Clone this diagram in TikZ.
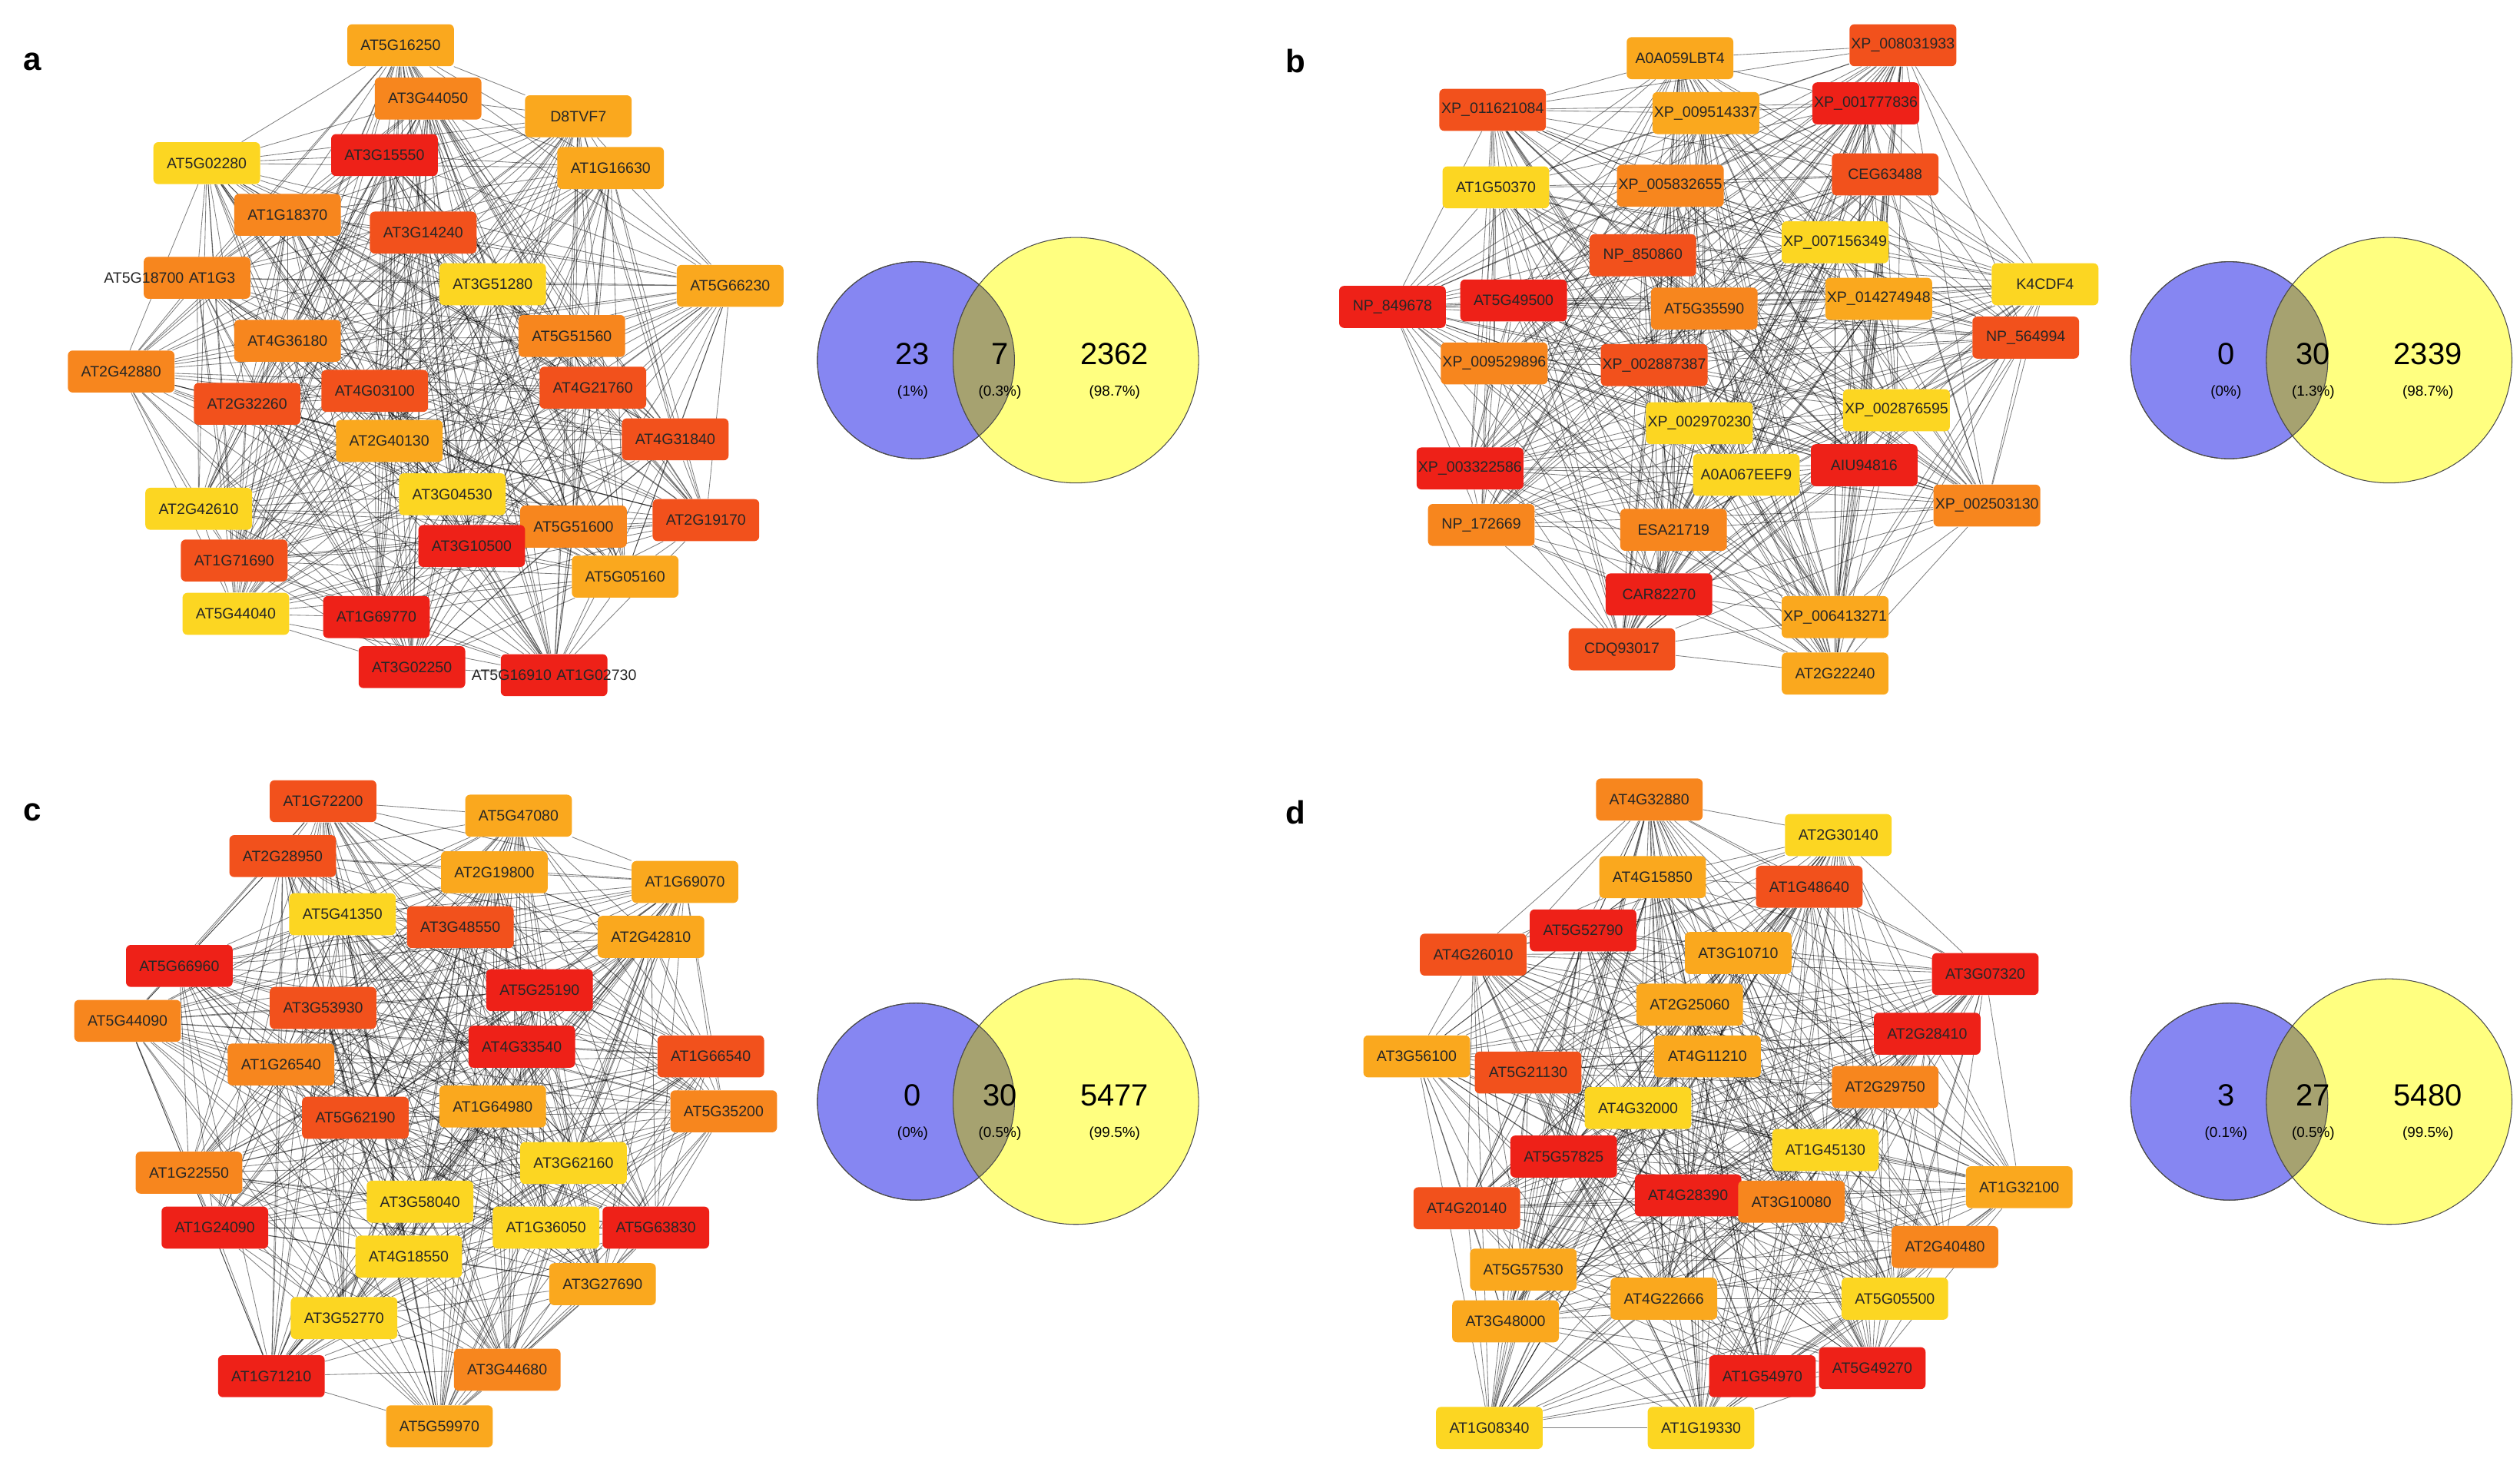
\documentclass[tikz,border=0pt]{standalone}
\usepackage{fontspec}
\setmainfont{Liberation Sans}
\pgfdeclarelayer{bg}
\pgfsetlayers{bg,main}
\definecolor{cR}{HTML}{EE2118}
\definecolor{cRO}{HTML}{F2511C}
\definecolor{cO}{HTML}{F7861E}
\definecolor{cOY}{HTML}{FAA81E}
\definecolor{cY}{HTML}{FCD622}
\definecolor{vblue}{HTML}{8686F2}
\definecolor{vyel}{HTML}{FFFF80}
\definecolor{volive}{HTML}{A6A270}
\tikzset{
 box/.style={rounded corners=3pt,minimum width=66pt,minimum height=26pt,inner sep=1pt,font=\fontsize{9.3}{10}\selectfont,text=black!85},
 edge/.style={draw=black,line width=0.4pt,opacity=0.5},
 lett/.style={font=\fontsize{20}{22}\selectfont\bfseries},
 num/.style={font=\fontsize{19}{20}\selectfont},
 pct/.style={font=\fontsize{9}{10}\selectfont},
 cb/.style={fill=vblue,draw=black!70,line width=0.5pt},
 cy/.style={fill=vyel,draw=black!70,line width=0.5pt},
}
\newcommand\netpanel[2]{%
 \foreach \x/\y/\c/\t [count=\k] in {#2}{\node[box,fill=c\c] (#1\k) at (\x,\y) {\t};}
 \begin{pgfonlayer}{bg}
 \foreach \i in {1,...,29}{\pgfmathtruncatemacro\s{\i+1}
  \foreach \j in {\s,...,30}{\draw[edge] (#1\i) -- (#1\j);}}
 \end{pgfonlayer}}
\newcommand\venn[8]{%
 \begin{scope}[shift={(0,#1)}]
 \path[cb] (#2,0) coordinate (#8c) circle (61);
 \path[cy] (#2+99,0) circle (76);
 \begin{scope}\clip (#2,0) circle (61);
 \path[fill=volive,draw=black!70,line width=0.5pt] (#2+99,0) circle (76);\end{scope}
 \draw[black!70,line width=0.5pt] (#2,0) circle (61);
 \node[num] (#8n1) at (#2-2,-4) {#3};
 \node[num] (#8n2) at (#2+52,-4) {#4};
 \node[num] (#8n3) at (#2+123,-4) {#5};
 \node[pct] (#8p1) at (#2-2,20) {#6};
 \end{scope}}
\begin{document}
\begin{tikzpicture}[x=1pt,y=-1pt]
\useasboundingbox (0,0) rectangle (1560,913);
\node[lett] (la) at (20,38) {a};
\node[lett] (lb) at (802,38) {b};
\node[lett] (lc) at (20,503) {c};
\node[lett] (ld) at (802,503) {d};
% panel a
\netpanel{a}{248/28/OY/AT5G16250,265/61/O/AT3G44050,358/72/OY/D8TVF7,128/101/Y/AT5G02280,238/96/R/AT3G15550,378/104/OY/AT1G16630,178/133/O/AT1G18370,262/144/RO/AT3G14240,122/172/O/{},305/176/Y/AT3G51280,452/177/OY/AT5G66230,178/211/O/AT4G36180,354/208/O/AT5G51560,75/230/O/AT2G42880,232/242/RO/AT4G03100,367/240/RO/AT4G21760,153/250/RO/AT2G32260,241/273/OY/AT2G40130,418/272/RO/AT4G31840,123/315/Y/AT2G42610,280/306/Y/AT3G04530,355/326/O/AT5G51600,437/322/RO/AT2G19170,145/347/RO/AT1G71690,292/338/R/AT3G10500,387/357/OY/AT5G05160,146/380/Y/AT5G44040,233/382/R/AT1G69770,255/413/R/AT3G02250,343/418/R/{}}
\node[box,fill=none,text width=120pt,align=center] (ta9) at (105,172) {AT5G18700 AT1G3};
\node[box,fill=none,text width=130pt,align=center] (ta30) at (343,418) {AT5G16910 AT1G02730};
% panel b
\netpanel{b}{1040/36/OY/A0A059LBT4,1178/28/RO/XP\_008031933,924/68/RO/XP\_011621084,1056/70/OY/XP\_009514337,1155/64/R/XP\_001777836,1167/108/RO/CEG63488,926/116/Y/AT1G50370,1034/115/O/XP\_005832655,1017/158/RO/NP\_850860,1136/150/Y/XP\_007156349,1266/176/Y/K4CDF4,862/190/R/NP\_849678,937/186/R/AT5G49500,1055/191/O/AT5G35590,1163/185/OY/XP\_014274948,1254/209/RO/NP\_564994,925/225/O/XP\_009529896,1024/226/RO/XP\_002887387,1052/262/Y/XP\_002970230,1174/254/Y/XP\_002876595,910/290/R/XP\_003322586,1081/294/Y/A0A067EEF9,1154/288/R/AIU94816,1230/313/O/XP\_002503130,917/325/O/NP\_172669,1036/328/O/ESA21719,1027/368/R/CAR82270,1136/382/OY/XP\_006413271,1004/402/RO/CDQ93017,1136/417/OY/AT2G22240}
% panel c
\netpanel{c}{200/496/RO/AT1G72200,321/505/OY/AT5G47080,175/530/RO/AT2G28950,306/540/OY/AT2G19800,424/546/OY/AT1G69070,212/566/Y/AT5G41350,285/574/RO/AT3G48550,403/580/OY/AT2G42810,111/598/R/AT5G66960,334/613/R/AT5G25190,200/624/RO/AT3G53930,79/632/O/AT5G44090,323/648/R/AT4G33540,440/654/RO/AT1G66540,174/659/O/AT1G26540,305/685/OY/AT1G64980,448/688/O/AT5G35200,220/692/RO/AT5G62190,117/726/O/AT1G22550,355/720/Y/AT3G62160,260/744/Y/AT3G58040,338/760/Y/AT1G36050,133/760/R/AT1G24090,406/760/R/AT5G63830,253/778/Y/AT4G18550,373/795/OY/AT3G27690,213/816/Y/AT3G52770,314/848/O/AT3G44680,168/852/R/AT1G71210,272/883/OY/AT5G59970}
% panel d
\netpanel{d}{1021/495/O/AT4G32880,1138/517/Y/AT2G30140,1023/543/OY/AT4G15850,1120/549/RO/AT1G48640,980/576/R/AT5G52790,912/591/RO/AT4G26010,1076/590/OY/AT3G10710,1229/603/R/AT3G07320,1046/622/OY/AT2G25060,1193/640/R/AT2G28410,1057/654/OY/AT4G11210,877/654/OY/AT3G56100,946/664/RO/AT5G21130,1167/673/O/AT2G29750,1014/686/Y/AT4G32000,968/716/R/AT5G57825,1130/712/Y/AT1G45130,908/748/RO/AT4G20140,1045/740/R/AT4G28390,1109/744/O/AT3G10080,1250/735/OY/AT1G32100,1204/772/O/AT2G40480,943/786/OY/AT5G57530,1030/804/OY/AT4G22666,1173/804/Y/AT5G05500,932/818/OY/AT3G48000,1091/852/R/AT1G54970,1159/847/R/AT5G49270,922/884/Y/AT1G08340,1053/884/Y/AT1G19330}
% venns
\venn{223}{567}{23}{7}{2362}{(1\%)}{}{va}
\node[pct] (vap2) at (619,243) {(0.3\%)}; \node[pct] (vap3) at (690,243) {(98.7\%)};
\venn{223}{1380}{0}{30}{2339}{(0\%)}{}{vb}
\node[pct] (vbp2) at (1432,243) {(1.3\%)}; \node[pct] (vbp3) at (1503,243) {(98.7\%)};
\venn{682}{567}{0}{30}{5477}{(0\%)}{}{vc}
\node[pct] (vcp2) at (619,702) {(0.5\%)}; \node[pct] (vcp3) at (690,702) {(99.5\%)};
\venn{682}{1380}{3}{27}{5480}{(0.1\%)}{}{vd}
\node[pct] (vdp2) at (1432,702) {(0.5\%)}; \node[pct] (vdp3) at (1503,702) {(99.5\%)};
\end{tikzpicture}
\end{document}
